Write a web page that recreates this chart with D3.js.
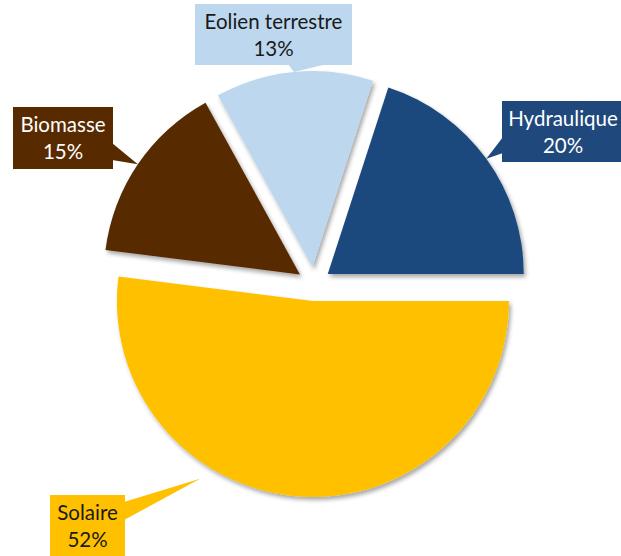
<!DOCTYPE html>
<html><head><meta charset="utf-8">
<script src="https://cdn.jsdelivr.net/npm/d3@7"></script>
<style>html,body{margin:0;padding:0;background:#fff;overflow:hidden}</style>
</head><body>
<script>
// Data (order as drawn clockwise from the first slice)
const categories = ["Hydraulique", "Solaire", "Biomasse", "Eolien terrestre"];
const values = [20, 52, 15, 13];
const percentLabels = ["20%", "52%", "15%", "13%"];
const colors = ["#1F497D", "#FFC000", "#582A00", "#BDD7EE"];
const textColors = ["#ffffff", "#1a1a1a", "#ffffff", "#1a1a1a"];

const W = 621, H = 556;
const cx = 314, cy = 284, R = 196, explode = 17;
const startDeg = 18;

// Callout layout (box + pointer) for each category
const callouts = {
  "Hydraulique":      {x: 502, y: 101, w: 122, h: 61, side: "left",   b0: 137, b1: 153, tipAngle: null, tipR: 1.0},
  "Solaire":          {x: 50,  y: 495, w: 75,  h: 70, side: "right",  b0: 502, b1: 520, tipAngle: 212.4, tipR: 1.075},
  "Biomasse":         {x: 13,  y: 107, w: 100, h: 62, side: "right",  b0: 143, b1: 160, tipAngle: null, tipR: 1.0},
  "Eolien terrestre": {x: 195, y: 4,   w: 157, h: 61, side: "bottom", b0: 288, b1: 327, tipAngle: null, tipR: 1.0}
};

const svg = d3.select("body").append("svg").attr("width", W).attr("height", H);
const defs = svg.append("defs");
const f = defs.append("filter").attr("id", "sh").attr("x", "-20%").attr("y", "-20%").attr("width", "140%").attr("height", "140%");
f.append("feDropShadow").attr("dx", 2).attr("dy", 3).attr("stdDeviation", 2).attr("flood-color", "#000").attr("flood-opacity", 0.35);

const pie = d3.pie().sort(null).value(d => d.v)
  .startAngle(startDeg * Math.PI / 180).endAngle(startDeg * Math.PI / 180 + 2 * Math.PI);
const data = categories.map((c, i) => ({c, v: values[i], i}));
const arcs = pie(data);
const arcGen = d3.arc().innerRadius(0).outerRadius(R);

const g = svg.append("g");
arcs.forEach(a => {
  const mid = (a.startAngle + a.endAngle) / 2;
  a.ox = cx + explode * Math.sin(mid);
  a.oy = cy - explode * Math.cos(mid);
  a.mid = mid;
});

g.selectAll("path.slice").data(arcs).join("path")
  .attr("class", "slice")
  .attr("transform", a => `translate(${a.ox},${a.oy})`)
  .attr("d", arcGen)
  .attr("fill", a => colors[a.data.i])
  .attr("filter", "url(#sh)");

// Callouts
const lg = svg.append("g");
arcs.forEach(a => {
  const c = callouts[a.data.c];
  const ang = c.tipAngle != null ? c.tipAngle * Math.PI / 180 : a.mid;
  const tx = a.ox + R * c.tipR * Math.sin(ang);
  const ty = a.oy - R * c.tipR * Math.cos(ang);
  let p;
  if (c.side === "bottom") p = [[c.b0, c.y + c.h - 1], [tx, ty], [c.b1, c.y + c.h - 1]];
  else if (c.side === "right") p = [[c.x + c.w - 1, c.b0], [tx, ty], [c.x + c.w - 1, c.b1]];
  else p = [[c.x + 1, c.b0], [tx, ty], [c.x + 1, c.b1]];
  const fill = colors[a.data.i];
  lg.append("rect").attr("x", c.x).attr("y", c.y).attr("width", c.w).attr("height", c.h).attr("fill", fill);
  lg.append("path").attr("d", "M" + p.map(q => q.join(",")).join("L") + "Z").attr("fill", fill);
  const t = lg.append("text")
    .attr("text-anchor", "middle")
    .attr("font-family", "Lato, 'Open Sans', sans-serif")
    .attr("font-size", 20.5)
    .attr("fill", textColors[a.data.i]);
  const mx = c.x + c.w / 2;
  const top = c.y + 25;
  t.append("tspan").attr("x", mx).attr("y", top).text(a.data.c);
  t.append("tspan").attr("x", mx).attr("y", top + 27).text(percentLabels[a.data.i]);
});
</script>
</body></html>
